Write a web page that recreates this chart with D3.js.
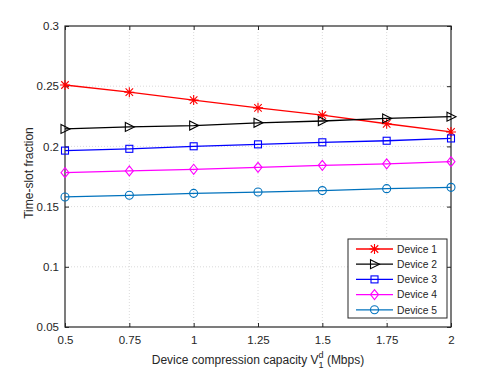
<!DOCTYPE html>
<html>
<head>
<meta charset="utf-8">
<script src="https://cdn.jsdelivr.net/npm/d3@7"></script>
<style>
  body { margin: 0; background: #fff; }
  svg { display: block; }
  text { font-family: "Liberation Sans", Arial, Helvetica, sans-serif; fill: #262626; }
</style>
</head>
<body>
<svg id="vis" width="498" height="374"></svg>
<script>
// x values: device compression capacity (Mbps)
var capacity = [0.5, 0.75, 1, 1.25, 1.5, 1.75, 2];
var xTicks = [0.5, 0.75, 1, 1.25, 1.5, 1.75, 2];
var yTicks = [0.05, 0.1, 0.15, 0.2, 0.25, 0.3];

var device1 = [0.251, 0.245, 0.2385, 0.232, 0.226, 0.2188, 0.212];
var device2 = [0.2145, 0.2162, 0.2173, 0.2196, 0.2211, 0.2232, 0.2247];
var device3 = [0.1965, 0.198, 0.2001, 0.2017, 0.2034, 0.2047, 0.2066];
var device4 = [0.1782, 0.1796, 0.181, 0.1826, 0.1843, 0.1855, 0.1873];
var device5 = [0.158, 0.1594, 0.161, 0.1621, 0.1633, 0.1649, 0.166];

var seriesNames = ["Device 1", "Device 2", "Device 3", "Device 4", "Device 5"];
var seriesColors = ["#ff0000", "#000000", "#0000ff", "#ff00ff", "#0072bd"];
var seriesMarkers = ["star", "triangle", "square", "diamond", "circle"];
var allSeries = [device1, device2, device3, device4, device5];

var plotL = 65, plotR = 451, plotT = 26, plotB = 327;

var svg = d3.select("#vis");

var x = d3.scaleLinear().domain([0.5, 2]).range([plotL, plotR]);
var y = d3.scaleLinear().domain([0.05, 0.3]).range([plotB, plotT]);

// grid
var grid = svg.append("g");
grid.selectAll(".gx").data(xTicks.slice(1, -1)).enter().append("line")
    .attr("x1", function(d) { return x(d); }).attr("x2", function(d) { return x(d); })
    .attr("y1", plotT).attr("y2", plotB)
    .attr("stroke", "#d0d0d0").attr("stroke-width", 0.8).attr("stroke-dasharray", "1,2");
grid.selectAll(".gy").data(yTicks.slice(1, -1)).enter().append("line")
    .attr("x1", plotL).attr("x2", plotR)
    .attr("y1", function(d) { return y(d); }).attr("y2", function(d) { return y(d); })
    .attr("stroke", "#d0d0d0").attr("stroke-width", 0.8).attr("stroke-dasharray", "1,2");

function tickFmt(d) { return String(d); }

// axes, MATLAB style: ticks inward, box on
var axisColor = "#262626";
function styleAxis(g) {
  g.select(".domain").remove();
  g.selectAll(".tick line").attr("stroke", axisColor);
  g.selectAll(".tick text").style("font-size", "11.5px").attr("fill", axisColor);
}

svg.append("g").attr("transform", "translate(0," + plotB + ")")
  .call(d3.axisBottom(x).tickValues(xTicks).tickFormat(tickFmt).tickSizeInner(-4).tickSizeOuter(0).tickPadding(9))
  .call(styleAxis);
svg.append("g").attr("transform", "translate(0," + plotT + ")")
  .call(d3.axisTop(x).tickValues(xTicks).tickFormat("").tickSizeInner(-4).tickSizeOuter(0))
  .call(styleAxis);
svg.append("g").attr("transform", "translate(" + plotL + ",0)")
  .call(d3.axisLeft(y).tickValues(yTicks).tickFormat(tickFmt).tickSizeInner(-4).tickSizeOuter(0).tickPadding(6))
  .call(styleAxis);
svg.append("g").attr("transform", "translate(" + plotR + ",0)")
  .call(d3.axisRight(y).tickValues(yTicks).tickFormat("").tickSizeInner(-4).tickSizeOuter(0))
  .call(styleAxis);

svg.append("rect")
  .attr("x", plotL).attr("y", plotT).attr("width", plotR - plotL).attr("height", plotB - plotT)
  .attr("fill", "none").attr("stroke", axisColor).attr("stroke-width", 1.2);

// markers
function drawMarker(g, type, cx, cy, color) {
  if (type === "star") {
    var r = 5;
    g.append("path")
      .attr("d", "M" + (cx - r) + "," + cy + "L" + (cx + r) + "," + cy +
                 "M" + cx + "," + (cy - r) + "L" + cx + "," + (cy + r) +
                 "M" + (cx - r * 0.75) + "," + (cy - r * 0.75) + "L" + (cx + r * 0.75) + "," + (cy + r * 0.75) +
                 "M" + (cx - r * 0.75) + "," + (cy + r * 0.75) + "L" + (cx + r * 0.75) + "," + (cy - r * 0.75))
      .attr("stroke", color).attr("stroke-width", 1.1).attr("fill", "none");
  } else if (type === "triangle") {
    g.append("path")
      .attr("d", "M" + (cx - 4) + "," + (cy - 4.5) + "L" + (cx + 5) + "," + cy + "L" + (cx - 4) + "," + (cy + 4.5) + "Z")
      .attr("stroke", color).attr("stroke-width", 1.1).attr("fill", "none");
  } else if (type === "square") {
    g.append("rect").attr("x", cx - 3.5).attr("y", cy - 3.5).attr("width", 7).attr("height", 7)
      .attr("stroke", color).attr("stroke-width", 1.1).attr("fill", "none");
  } else if (type === "diamond") {
    g.append("path")
      .attr("d", "M" + cx + "," + (cy - 5) + "L" + (cx + 4) + "," + cy + "L" + cx + "," + (cy + 5) + "L" + (cx - 4) + "," + cy + "Z")
      .attr("stroke", color).attr("stroke-width", 1.1).attr("fill", "none");
  } else {
    g.append("circle").attr("cx", cx).attr("cy", cy).attr("r", 4)
      .attr("stroke", color).attr("stroke-width", 1.1).attr("fill", "none");
  }
}

var line = d3.line()
  .x(function(d, i) { return x(capacity[i]); })
  .y(function(d) { return y(d); });

allSeries.forEach(function(vals, k) {
  var g = svg.append("g");
  g.append("path").datum(vals)
    .attr("fill", "none").attr("stroke", seriesColors[k]).attr("stroke-width", 1.3)
    .attr("d", line);
  vals.forEach(function(v, i) {
    drawMarker(g, seriesMarkers[k], x(capacity[i]), y(v), seriesColors[k]);
  });
});

// legend
var lg = svg.append("g");
lg.append("rect").attr("x", 348).attr("y", 239).attr("width", 99).attr("height", 79)
  .attr("fill", "#fff").attr("stroke", axisColor).attr("stroke-width", 1);
seriesNames.forEach(function(name, k) {
  var ly = 249 + k * 15.2;
  lg.append("line").attr("x1", 356).attr("x2", 393).attr("y1", ly).attr("y2", ly)
    .attr("stroke", seriesColors[k]).attr("stroke-width", 1.3);
  drawMarker(lg, seriesMarkers[k], 374.5, ly, seriesColors[k]);
  lg.append("text").attr("x", 397).attr("y", ly + 3.7).style("font-size", "10.3px").text(name);
});

// axis titles
var xt = svg.append("text").attr("x", 258).attr("y", 364).attr("text-anchor", "middle").style("font-size", "12px");
xt.append("tspan").text("Device compression capacity V");
xt.append("tspan").attr("dy", 3.5).style("font-size", "9px").text("1");
xt.append("tspan").attr("dy", -10).attr("dx", -5).style("font-size", "9px").text("d");
xt.append("tspan").attr("dy", 6.5).text(" (Mbps)");

svg.append("text")
  .attr("transform", "translate(33," + 173 + ") rotate(-90)")
  .attr("text-anchor", "middle").style("font-size", "12px")
  .text("Time-slot fraction");
</script>
</body>
</html>
